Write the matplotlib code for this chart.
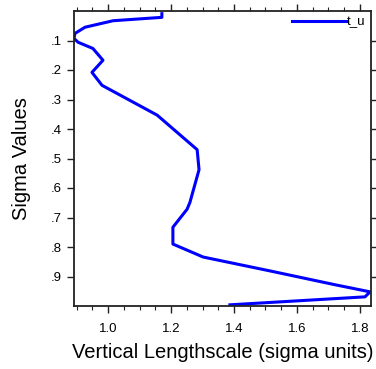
import matplotlib
matplotlib.use("Agg")
import matplotlib.pyplot as plt
from matplotlib.ticker import MultipleLocator

lengthscale = [1.171, 1.171, 1.016, 0.927, 0.895, 0.892, 0.905, 0.952, 0.984, 0.949,
               0.981, 1.156, 1.283, 1.289, 1.260, 1.251, 1.206, 1.206, 1.302, 1.514,
               1.721, 1.832, 1.816, 1.387]
sigma = [0.009, 0.0215, 0.033, 0.055, 0.076, 0.093, 0.106, 0.127, 0.167, 0.208,
         0.252, 0.353, 0.470, 0.538, 0.649, 0.672, 0.733, 0.790, 0.834, 0.881,
         0.928, 0.952, 0.969, 0.996]
series_name = "t_u"
ytick_vals = [0.1, 0.2, 0.3, 0.4, 0.5, 0.6, 0.7, 0.8, 0.9]
ytick_labels = [".1", ".2", ".3", ".4", ".5", ".6", ".7", ".8", ".9"]
xtick_vals = [1.0, 1.2, 1.4, 1.6, 1.8]
xtick_labels = ["1.0", "1.2", "1.4", "1.6", "1.8"]

plt.rcParams['font.family'] = ['Liberation Sans', 'DejaVu Sans']

fig = plt.figure(figsize=(3.76, 3.69), dpi=100)
ax = fig.add_axes([74/376, 1 - 306/369, (371-74)/376, (306-11)/369])

ax.plot(lengthscale, sigma, color='#0000ff', lw=2.2, label=series_name)
ax.set_xlim(0.892, 1.835)
ax.set_ylim(1.0, 0.0)

ax.set_yticks(ytick_vals)
ax.set_yticklabels(ytick_labels)
ax.set_xticks(xtick_vals)
ax.set_xticklabels(xtick_labels)
ax.xaxis.set_minor_locator(MultipleLocator(0.05))

for s in ax.spines.values():
    s.set_linewidth(1.3)
    s.set_color('#222222')

ax.tick_params(which='major', direction='out', length=5, width=1.0, color='#222222',
               labelsize=9.5, top=True, right=True, labeltop=False, labelright=False)
ax.tick_params(which='minor', direction='out', length=3, width=0.8, color='#222222',
               top=True, bottom=True)
ax.tick_params(axis='y', which='minor', left=False, right=False)
ax.tick_params(axis='x', pad=7)
ax.tick_params(axis='y', pad=4)

ax.set_xlabel("Vertical Lengthscale (sigma units)", fontsize=14.5, labelpad=6)
ax.set_ylabel("Sigma Values", fontsize=14.5, labelpad=14)

leg = ax.legend(loc='upper right', frameon=False, fontsize=9.5, handlelength=4.1,
                handletextpad=0.1, borderaxespad=0.15, borderpad=0.25)

fig.savefig("out.png", dpi=100)
